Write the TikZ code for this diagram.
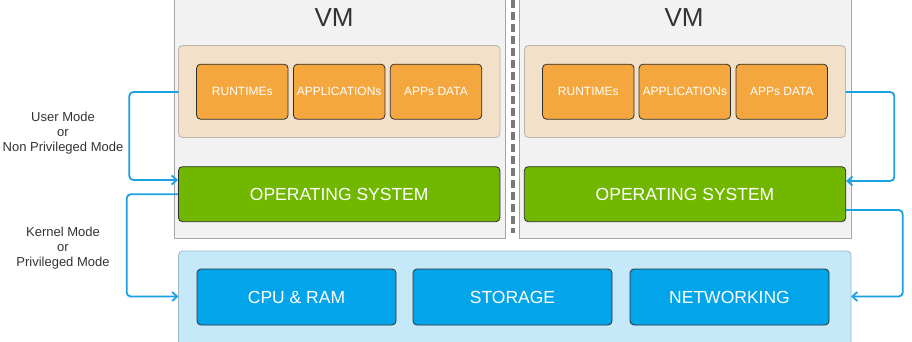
\documentclass[tikz,border=0pt]{standalone}
\usepackage{fontspec}
\setmainfont{Liberation Sans}
\usetikzlibrary{arrows.meta}
\definecolor{vmfill}{HTML}{F2F2F2}
\definecolor{vmline}{HTML}{A6A6A6}
\definecolor{appfill}{HTML}{F2E0C9}
\definecolor{appline}{HTML}{BDB5AC}
\definecolor{orangefill}{HTML}{F4A73E}
\definecolor{osfill}{HTML}{71B700}
\definecolor{hwfill}{HTML}{C5E9F8}
\definecolor{hwline}{HTML}{9DB7C4}
\definecolor{cellblue}{HTML}{03A5EA}
\definecolor{darkline}{HTML}{2E2E2E}
\definecolor{linkblue}{HTML}{1BA1E2}
\definecolor{txt}{HTML}{333333}
\tikzset{
  vmbox/.style={draw=vmline, fill=vmfill, line width=1pt},
  groupbox/.style={draw=appline, fill=appfill, rounded corners=4pt, line width=0.8pt},
  hwgroup/.style={draw=hwline, fill=hwfill, rounded corners=4pt, line width=0.8pt},
  cell/.style={draw=darkline, rounded corners=4pt, line width=0.8pt, text=white, inner sep=0pt},
  appcell/.style={cell, fill=orangefill, font=\fontsize{12}{14}\selectfont},
  oscell/.style={cell, fill=osfill, font=\fontsize{17.5}{20}\selectfont},
  hwcell/.style={cell, fill=cellblue, font=\fontsize{17.5}{20}\selectfont},
  vmlabel/.style={text=txt, font=\fontsize{26}{30}\selectfont},
  modelabel/.style={text=txt, align=center, font=\fontsize{13}{15}\selectfont},
  link/.style={draw=linkblue, line width=1.8pt, rounded corners=4pt, -{Straight Barb[length=5pt,width=9pt]}},
}
\begin{document}
\begin{tikzpicture}[x=1pt,y=-1pt]
\useasboundingbox (0,0) rectangle (912,342);
\fill[white] (0,0) rectangle (912,342);

% virtual machine frames
\draw[vmbox] (174,-5) rectangle (505.5,238);
\draw[vmbox] (519.5,-5) rectangle (851,238);
% separator between the two machines
\draw[draw=gray!95!black, line width=4pt, dash pattern=on 8pt off 4pt] (512.5,0) -- (512.5,233);

\node[vmlabel] (vm1) at (334,18) {VM};
\node[vmlabel] (vm2) at (684,18) {VM};

% user-space groups
\path[groupbox] (178.5,45.5) rectangle (500,137.5);
\path[groupbox] (524.5,45.5) rectangle (845.5,137.5);
\coordinate (ug1w) at (178.5,92);
\coordinate (ug2e) at (845.5,92);

\node[appcell, minimum width=91.5pt, minimum height=55pt] (rt1) at (242.3,91.7) {RUNTIMEs};
\node[appcell, minimum width=91.5pt, minimum height=55pt] (ap1) at (339.2,91.7) {APPLICATIONs};
\node[appcell, minimum width=91.5pt, minimum height=55pt] (dt1) at (436,91.7) {APPs DATA};
\node[appcell, minimum width=91.5pt, minimum height=55pt] (rt2) at (588.3,91.7) {RUNTIMEs};
\node[appcell, minimum width=91.5pt, minimum height=55pt] (ap2) at (684.8,91.7) {APPLICATIONs};
\node[appcell, minimum width=91.5pt, minimum height=55pt] (dt2) at (781.8,91.7) {APPs DATA};

% operating systems
\node[oscell, minimum width=321.5pt, minimum height=55pt] (os1) at (339.2,194.2) {OPERATING SYSTEM};
\node[oscell, minimum width=321.5pt, minimum height=55pt] (os2) at (685,194.2) {OPERATING SYSTEM};

% hardware layer
\path[hwgroup] (178.5,251) rectangle (851,360);
\coordinate (hww) at (178.5,296.5);
\coordinate (hwe) at (851,296.5);
\node[hwcell, minimum width=199pt, minimum height=56pt] (cpu) at (296.5,297) {CPU \& RAM};
\node[hwcell, minimum width=199pt, minimum height=56pt] (sto) at (512.5,297) {STORAGE};
\node[hwcell, minimum width=199pt, minimum height=56pt] (net) at (729.5,297) {NETWORKING};

% mode transitions
\draw[link] (ug1w) -| (129.3,135) |- (os1.west |- 0,180);
\draw[link] (os1.west |- 0,194.3) -| (126.7,250) |- (hww);
\draw[link] (ug2e) -| (894.3,135) |- (os2.east |- 0,181);
\draw[link] (os2.east |- 0,210) -| (902.7,250) |- (hwe);

\node[modelabel] (um) at (63,133) {User Mode\\or\\Non Privileged Mode};
\node[modelabel] (km) at (63,248) {Kernel Mode\\or\\Privileged Mode};
\end{tikzpicture}
\end{document}
